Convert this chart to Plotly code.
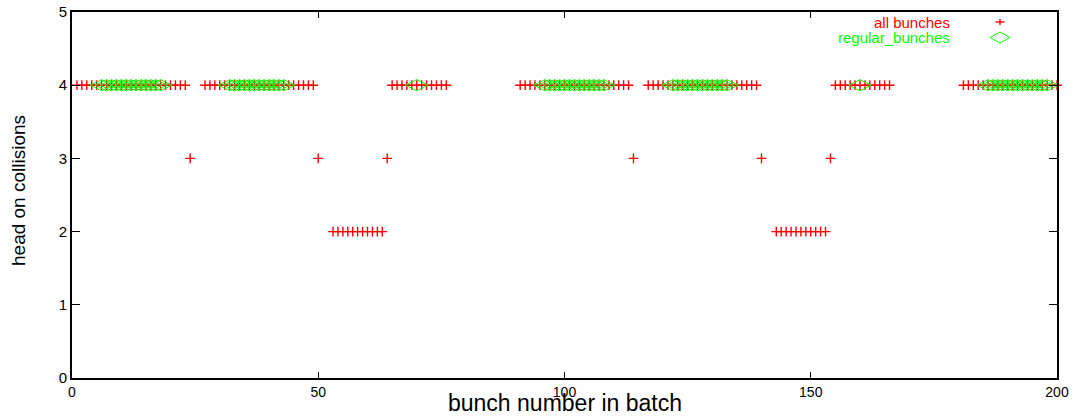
import plotly.graph_objects as go

# ---- data ----
# all bunches: bunch number -> number of head-on collisions
all_x_4 = (list(range(1, 24)) + list(range(27, 50)) + list(range(65, 77)) +
           list(range(91, 114)) + list(range(117, 140)) + list(range(155, 167)) +
           list(range(181, 201)))
all_x_3 = [24, 50, 64, 114, 140, 154]
all_x_2 = list(range(53, 64)) + list(range(143, 154))

all_x = all_x_4 + all_x_3 + all_x_2
all_y = [4] * len(all_x_4) + [3] * len(all_x_3) + [2] * len(all_x_2)

# regular bunches (all at 4 collisions)
reg_x = (list(range(6, 19)) + list(range(32, 44)) + [70] +
         list(range(96, 109)) + list(range(122, 134)) + [160] +
         list(range(186, 199)))
reg_y = [4] * len(reg_x)

x_ticks = [0, 50, 100, 150, 200]
y_ticks = [0, 1, 2, 3, 4, 5]

RED = "#ff0000"
GREEN = "#00ff00"
FONT = "Liberation Sans, Arial, Helvetica, sans-serif"

W, H = 1076, 416
L, R, T, B = 72, 19, 12, 38
PW, PH = W - L - R, H - T - B

fig = go.Figure()
fig.add_trace(go.Scatter(
    x=all_x, y=all_y, mode="markers", name="all bunches",
    marker=dict(symbol="cross-thin", size=7, line=dict(color=RED, width=1.4)),
    cliponaxis=False, showlegend=False))
fig.add_trace(go.Scatter(
    x=reg_x, y=reg_y, mode="markers", name="regular_bunches",
    marker=dict(symbol="diamond-wide-open", size=16, color=GREEN,
                line=dict(color=GREEN, width=1)),
    cliponaxis=False, showlegend=False))

# legend drawn gnuplot-style (text right-aligned, sample to the right)
px_x, px_y = 1 / PW, 1 / PH
ty1 = 1 - 10 * px_y
ty2 = 1 - 25.5 * px_y
tx = (952 - L) * px_x
cx = (1000 - L) * px_x
fig.add_annotation(x=tx, y=ty1, xref="paper", yref="paper", xanchor="right",
                   yanchor="middle", text="all bunches", showarrow=False,
                   font=dict(color=RED, size=15, family=FONT))
fig.add_annotation(x=tx, y=ty2, xref="paper", yref="paper", xanchor="right",
                   yanchor="middle", text="regular_bunches", showarrow=False,
                   font=dict(color=GREEN, size=15, family=FONT))
fig.add_shape(type="line", xref="paper", yref="paper",
              x0=cx - 4.5 * px_x, x1=cx + 4.5 * px_x, y0=ty1, y1=ty1,
              line=dict(color=RED, width=1.4))
fig.add_shape(type="line", xref="paper", yref="paper",
              x0=cx, x1=cx, y0=ty1 - 3 * px_y, y1=ty1 + 3 * px_y,
              line=dict(color=RED, width=1.4))
dx, dy = 10 * px_x, 5.5 * px_y
fig.add_shape(type="path", xref="paper", yref="paper",
              path=f"M {cx - dx} {ty2} L {cx} {ty2 + dy} L {cx + dx} {ty2} L {cx} {ty2 - dy} Z",
              line=dict(color=GREEN, width=1))

# axis titles
fig.add_annotation(x=0.5, y=0, xref="paper", yref="paper", yanchor="middle",
                   yshift=-25, text="bunch number in batch", showarrow=False,
                   font=dict(size=23, family=FONT, color="black"))
fig.add_annotation(x=0, y=0.5, xref="paper", yref="paper", xanchor="center",
                   xshift=-54, yshift=4, text="head on collisions", textangle=-90,
                   showarrow=False, font=dict(size=19, family=FONT, color="black"))

fig.update_layout(
    width=W, height=H,
    margin=dict(l=L, r=R, t=T, b=B),
    paper_bgcolor="white", plot_bgcolor="white",
    font=dict(family=FONT, color="black"),
    showlegend=False,
)
fig.update_xaxes(
    range=[0, 200], tickvals=x_ticks, ticktext=[str(v) for v in x_ticks],
    ticks="inside", ticklen=6, tickwidth=1, tickcolor="black",
    showline=True, linecolor="black", linewidth=2, mirror="ticks",
    showgrid=False, zeroline=False,
    tickfont=dict(size=14), ticklabeloverflow="allow",
    automargin=False,
)
fig.update_yaxes(
    range=[0, 5], tickvals=y_ticks, ticktext=[str(v) for v in y_ticks],
    ticks="inside", ticklen=8, tickwidth=1, tickcolor="black",
    showline=True, linecolor="black", linewidth=2, mirror="ticks",
    showgrid=False, zeroline=False,
    tickfont=dict(size=15), ticklabeloverflow="allow",
    automargin=False,
)

fig.write_html("out.html", config={"displayModeBar": False},
               post_script="document.body.style.margin='0';document.body.style.overflow='hidden';")
